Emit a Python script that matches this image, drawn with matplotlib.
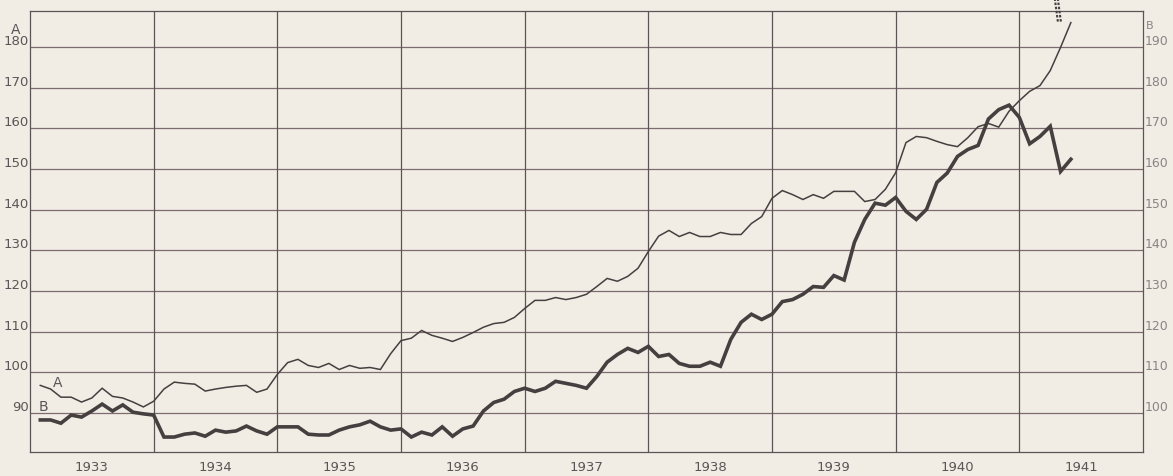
import numpy as np
import matplotlib
matplotlib.use("Agg")
import matplotlib.pyplot as plt
from matplotlib.lines import Line2D

# monthly readings, Jan 1933 .. May 1941
series_a = [96.8, 95.9, 93.9, 93.9, 92.7, 93.7, 96.1, 94.1, 93.7, 92.7, 91.5, 92.9,
            95.9, 97.6, 97.3, 97.1, 95.4, 95.9, 96.3, 96.6, 96.8, 95.1, 95.9, 99.5,
            102.4, 103.2, 101.7, 101.2, 102.2, 100.7, 101.7, 101.0, 101.2, 100.7, 104.6, 107.8,
            108.4, 110.3, 109.1, 108.4, 107.6, 108.6, 109.8, 111.1, 112.0, 112.3, 113.5, 115.7,
            117.7, 117.7, 118.4, 117.9, 118.4, 119.2, 121.1, 123.1, 122.4, 123.6, 125.6, 129.7,
            133.5, 134.9, 133.4, 134.4, 133.4, 133.4, 134.4, 133.9, 133.9, 136.6, 138.3, 142.8,
            144.7, 143.7, 142.5, 143.7, 142.8, 144.5, 144.5, 144.5, 142.0, 142.5, 145.0, 149.1,
            156.5, 158.0, 157.7, 156.8, 156.0, 155.5, 157.7, 160.4, 161.2, 160.3, 164.2, 166.8,
            169.1, 170.5, 174.2, 179.9, 186.0]

# series B on its own scale (right axis)
series_b = [98.3, 98.3, 97.5, 99.5, 99.0, 100.5, 102.2, 100.5, 102.0, 100.2, 99.8, 99.5,
            94.1, 94.1, 94.8, 95.1, 94.3, 95.8, 95.3, 95.6, 96.8, 95.6, 94.8, 96.6,
            96.6, 96.6, 94.8, 94.6, 94.6, 95.8, 96.6, 97.1, 98.0, 96.6, 95.8, 96.1,
            94.1, 95.3, 94.6, 96.6, 94.3, 96.1, 96.8, 100.5, 102.6, 103.4, 105.3, 106.1,
            105.3, 106.1, 107.8, 107.3, 106.8, 106.1, 109.0, 112.5, 114.4, 115.9, 114.9, 116.4,
            113.9, 114.4, 112.2, 111.5, 111.5, 112.5, 111.5, 118.1, 122.3, 124.3, 123.0, 124.3,
            127.4, 127.9, 129.2, 131.1, 130.9, 133.8, 132.7, 142.0, 147.6, 151.6, 151.1, 153.0,
            149.6, 147.6, 150.1, 156.7, 159.0, 163.1, 164.8, 165.8, 172.3, 174.6, 175.7, 172.7,
            166.2, 168.0, 170.5, 159.4, 162.4]

years = list(range(1933, 1942))
a_ticks = list(range(90, 190, 10))
b_ticks = list(range(100, 200, 10))

months_a = 1933 + np.arange(1, len(series_a) + 1) / 12.0
months_b = 1933 + np.arange(1, len(series_b) + 1) / 12.0

paper = "#f1ede4"
ink = "#463f40"
txt = "#5a5556"

fig = plt.figure(figsize=(11.73, 4.77), dpi=100, facecolor=paper)
ax = fig.add_axes([30 / 1173, 24 / 477, 1113 / 1173, 441 / 477])
ax.set_facecolor(paper)
ax.set_xlim(1933, 1942)
ax.set_ylim(80.42, 188.85)

# grid
for v in a_ticks:
    ax.axhline(v, color="#7c6c72", lw=0.9, zorder=1)
for yr in years[1:]:
    ax.axvline(yr, color="#5c5355", lw=0.9, zorder=1)
for s in ax.spines.values():
    s.set_color("#5c5355")
    s.set_linewidth(0.9)

ax.set_yticks(a_ticks)
ax.set_yticklabels([str(v) for v in a_ticks])
ax.set_xticks([y + 0.5 for y in years])
ax.set_xticklabels([str(y) for y in years])
ax.tick_params(axis="y", length=0, pad=1, labelsize=9.5, labelcolor=txt)
ax.tick_params(axis="x", length=0, pad=6, labelsize=9.5, labelcolor=txt)
for lab in ax.get_yticklabels():
    lab.set_verticalalignment("bottom")

ax2 = ax.twinx()
ax2.set_ylim(80.42 + 10, 188.85 + 10)
ax2.set_yticks(b_ticks)
ax2.set_yticklabels([str(v) for v in b_ticks])
ax2.tick_params(axis="y", length=0, pad=1, labelsize=9, labelcolor="#8a8485")
for lab in ax2.get_yticklabels():
    lab.set_verticalalignment("bottom")
for s in ax2.spines.values():
    s.set_visible(False)

ax.plot(months_a, series_a, color=ink, lw=1.1, zorder=3, solid_joinstyle="miter")
ax2.plot(months_b, series_b, color=ink, lw=2.6, zorder=3, solid_joinstyle="miter")

# axis letters
ax.text(-0.013, 1.0 - 18 / 441, "A", transform=ax.transAxes, ha="center",
        va="center", fontsize=10, color=txt)
ax2.text(1.003, 1.0 - 14 / 441, "B", transform=ax.transAxes, ha="left",
         va="center", fontsize=8, color="#8a8485")

# curve letters
ax.annotate("A", xy=(months_a[0], series_a[0]), xytext=(17, 3),
            textcoords="offset pixels", fontsize=10, color=txt,
            ha="center", va="center")
ax2.annotate("B", xy=(months_b[0], series_b[0]), xytext=(3, 14),
             textcoords="offset pixels", fontsize=10, color=txt,
             ha="center", va="center")

# "off the scale" marks above the end of curve A
fig.canvas.draw()
px, py = ax.transData.transform((months_a[-1], series_a[-1]))
for dx in (-13, -10):
    fig.add_artist(Line2D([px + dx, px + dx - 3], [py + 1, 477], transform=None,
                          color=ink, lw=1.5, ls=(0, (1.2, 0.8))))

fig.savefig("out.png", dpi=100, facecolor=paper)
